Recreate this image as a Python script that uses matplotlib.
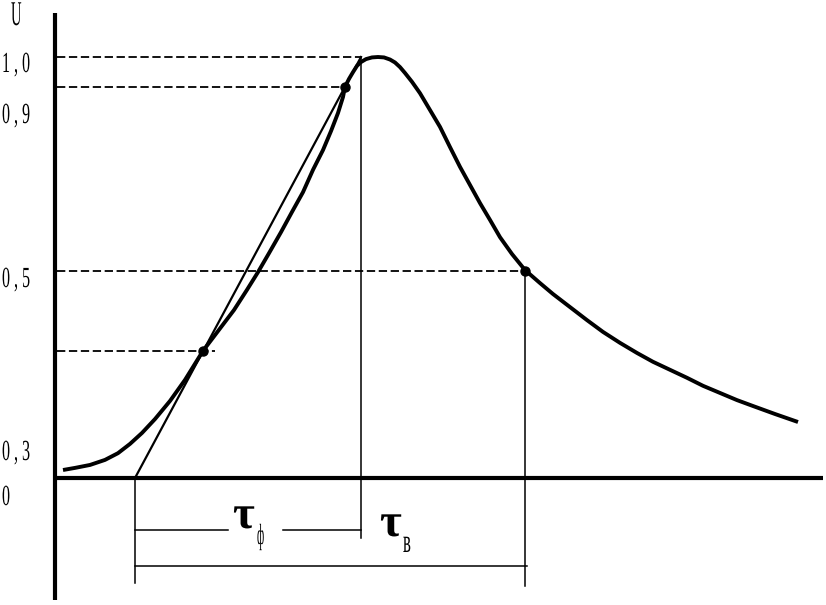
"""
Pulse shape U(t): front duration tau_f (0.1..0.9 tangent) and pulse width tau_v at 0.5 level.
"""
import matplotlib

matplotlib.use("Agg")
import matplotlib.pyplot as plt
from matplotlib.patheffects import AbstractPathEffect
from matplotlib.transforms import Affine2D

# pulse curve (t in picture units, U normalised to peak)
t_curve = [8, 20, 35, 50, 63, 75, 87, 100, 115, 130, 148,
           164, 179, 192, 203, 214, 226, 237, 248, 258, 268, 276, 283, 288, 290,
           294, 298, 302, 306, 311, 317, 323, 329, 335, 340, 345, 350, 357, 365,
           375, 385, 395, 405, 415, 425, 435, 445, 457, 470, 485, 498, 515, 532,
           548, 565, 582, 598, 615, 632, 648, 665, 682, 698, 720, 743]
u_curve = [0.019, 0.024, 0.031, 0.043, 0.059, 0.081, 0.107, 0.140, 0.183, 0.233, 0.302,
           0.352, 0.399, 0.447, 0.489, 0.534, 0.584, 0.632, 0.679, 0.732, 0.779, 0.824,
           0.867, 0.905, 0.929, 0.948, 0.964, 0.979, 0.988, 0.995, 0.999, 1.0, 0.999,
           0.994, 0.987, 0.976, 0.962, 0.941, 0.914, 0.874, 0.834, 0.786, 0.739, 0.696,
           0.653, 0.613, 0.572, 0.532, 0.494, 0.463, 0.437, 0.406, 0.375, 0.347, 0.321,
           0.297, 0.276, 0.257, 0.238, 0.219, 0.202, 0.185, 0.171, 0.152, 0.133]

# front tangent: from axis crossing to the 1.0 level
t_tangent = [80, 306]
u_tangent = [0.0, 1.0]

# marked points on the curve
t_dots = [148, 290, 470]
u_dots = [0.302, 0.929, 0.492]

# dashed reference levels and where they stop
u_levels = [1.0, 0.929, 0.492, 0.302]
t_level_end = [306, 290, 470, 160]

# bracket positions
t_front_start, t_front_end, t_half = 80, 306, 470
u_bracket_front = -0.124
u_bracket_width = -0.209
u_bracket_bottom = -0.249

# axis labels (text, pixel x, pixel baseline y)
tick_labels = ["U", "1 , 0", "0 , 9", "0 , 5", "0 , 3", "0"]
tick_px = [11, 2, 2, 2, 2, 2]
tick_py = [25, 72, 123, 287, 460, 505]


class Squeeze(AbstractPathEffect):
    """Narrow the glyphs horizontally (condensed type look)."""

    def __init__(self, sx):
        super().__init__()
        self.sx = sx

    def draw_path(self, renderer, gc, tpath, affine, rgbFace=None):
        renderer.draw_path(gc, tpath, Affine2D().scale(self.sx, 1.0) + affine, rgbFace)


W, H = 826, 605
fig = plt.figure(figsize=(W / 100, H / 100), dpi=100)
ax = fig.add_axes([0, 0, 1, 1])
ax.set_xlim(-55, 771)
ax.set_ylim((478 - 605) / 421, 478 / 421)
ax.axis("off")


def px_text(px, py, s, size, sx, **kw):
    fig.text(px / W, 1 - py / H, s, fontsize=size, ha="left", va="baseline",
             path_effects=[Squeeze(sx)], **kw)


# axes
ax.plot([0, 0], [-0.29, 1.105], color="black", lw=3.0, solid_capstyle="butt")
ax.plot([0, 768], [0, 0], color="black", lw=3.0, solid_capstyle="butt")

# dashed levels
for u, te in zip(u_levels, t_level_end):
    ax.plot([2, te], [u, u], color="black", lw=1.3, dashes=(4.6, 2.0))

# vertical markers and brackets
ax.plot([t_front_start, t_front_start], [0, u_bracket_bottom], color="black", lw=1.1)
ax.plot([t_front_end, t_front_end], [1.0, -0.143], color="black", lw=1.1)
ax.plot([t_half, t_half], [u_dots[2], -0.257], color="black", lw=1.1)
ax.plot([t_front_start, 173], [u_bracket_front] * 2, color="black", lw=1.1)
ax.plot([228, t_front_end], [u_bracket_front] * 2, color="black", lw=1.1)
ax.plot([t_front_start, t_half + 2], [u_bracket_width] * 2, color="black", lw=1.1)

# tangent and pulse
ax.plot(t_tangent, u_tangent, color="black", lw=1.6)
ax.plot(t_curve, u_curve, color="black", lw=2.8, solid_joinstyle="round",
        solid_capstyle="butt")
ax.plot(t_dots, u_dots, "o", color="black", ms=6.5)

serif = "Liberation Serif"
for s, x, y in zip(tick_labels, tick_px, tick_py):
    if s == "U":
        px_text(x, y, s, 25, 0.42, family=serif)
    else:
        px_text(x, y, s, 21, 0.55, family=serif)

# tau labels
px_text(233, 528, "τ", 34, 1.0, family=serif, fontweight="bold")
px_text(257, 544, "ф", 21, 0.38, family=serif)
px_text(380, 536, "τ", 34, 1.0, family=serif, fontweight="bold")
px_text(403, 552, "в", 24, 0.5, family=serif)

fig.savefig("out.png", dpi=100)
